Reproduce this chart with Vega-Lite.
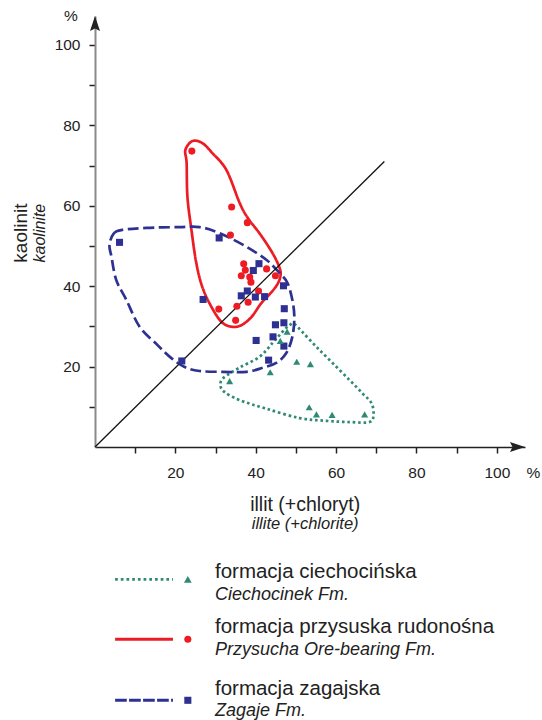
{
  "$schema": "https://vega.github.io/schema/vega-lite/v6.json",
  "width": 430,
  "height": 431,
  "autosize": {"type": "none"},
  "padding": {"left": 95, "top": 16, "right": 17, "bottom": 273},
  "background": "white",
  "config": {"view": {"stroke": null}, "font": "Liberation Sans"},
  "datasets": {
    "outlines": [
      {"formacja": "ciechocińska", "i": 0, "illit": 48.4, "kaolinit": 30.3},
      {"formacja": "ciechocińska", "i": 1, "illit": 49.6, "kaolinit": 30.6},
      {"formacja": "ciechocińska", "i": 2, "illit": 51.6, "kaolinit": 28.6},
      {"formacja": "ciechocińska", "i": 3, "illit": 55.1, "kaolinit": 24.9},
      {"formacja": "ciechocińska", "i": 4, "illit": 59.1, "kaolinit": 20.9},
      {"formacja": "ciechocińska", "i": 5, "illit": 63.3, "kaolinit": 16.7},
      {"formacja": "ciechocińska", "i": 6, "illit": 66.5, "kaolinit": 13.4},
      {"formacja": "ciechocińska", "i": 7, "illit": 68.8, "kaolinit": 10.9},
      {"formacja": "ciechocińska", "i": 8, "illit": 69.3, "kaolinit": 8.0},
      {"formacja": "ciechocińska", "i": 9, "illit": 68.3, "kaolinit": 6.2},
      {"formacja": "ciechocińska", "i": 10, "illit": 63.3, "kaolinit": 6.2},
      {"formacja": "ciechocińska", "i": 11, "illit": 57.6, "kaolinit": 6.5},
      {"formacja": "ciechocińska", "i": 12, "illit": 50.9, "kaolinit": 7.2},
      {"formacja": "ciechocińska", "i": 13, "illit": 42.7, "kaolinit": 9.5},
      {"formacja": "ciechocińska", "i": 14, "illit": 35.9, "kaolinit": 11.7},
      {"formacja": "ciechocińska", "i": 15, "illit": 32.2, "kaolinit": 13.7},
      {"formacja": "ciechocińska", "i": 16, "illit": 31.2, "kaolinit": 15.4},
      {"formacja": "ciechocińska", "i": 17, "illit": 32.0, "kaolinit": 17.2},
      {"formacja": "ciechocińska", "i": 18, "illit": 35.9, "kaolinit": 19.7},
      {"formacja": "ciechocińska", "i": 19, "illit": 40.9, "kaolinit": 22.4},
      {"formacja": "ciechocińska", "i": 20, "illit": 44.2, "kaolinit": 25.9},
      {"formacja": "ciechocińska", "i": 21, "illit": 46.6, "kaolinit": 28.6},
      {"formacja": "przysuska", "i": 0, "illit": 24.25, "kaolinit": 76.1},
      {"formacja": "przysuska", "i": 1, "illit": 26.7, "kaolinit": 75.6},
      {"formacja": "przysuska", "i": 2, "illit": 29.2, "kaolinit": 73.1},
      {"formacja": "przysuska", "i": 3, "illit": 32.7, "kaolinit": 68.9},
      {"formacja": "przysuska", "i": 4, "illit": 36.0, "kaolinit": 60.7},
      {"formacja": "przysuska", "i": 5, "illit": 38.0, "kaolinit": 57.0},
      {"formacja": "przysuska", "i": 6, "illit": 40.9, "kaolinit": 53.2},
      {"formacja": "przysuska", "i": 7, "illit": 43.4, "kaolinit": 49.5},
      {"formacja": "przysuska", "i": 8, "illit": 45.1, "kaolinit": 46.5},
      {"formacja": "przysuska", "i": 9, "illit": 46.1, "kaolinit": 44.0},
      {"formacja": "przysuska", "i": 10, "illit": 46.1, "kaolinit": 42.3},
      {"formacja": "przysuska", "i": 11, "illit": 45.4, "kaolinit": 40.5},
      {"formacja": "przysuska", "i": 12, "illit": 43.9, "kaolinit": 38.5},
      {"formacja": "przysuska", "i": 13, "illit": 41.4, "kaolinit": 35.8},
      {"formacja": "przysuska", "i": 14, "illit": 38.9, "kaolinit": 32.3},
      {"formacja": "przysuska", "i": 15, "illit": 36.4, "kaolinit": 30.3},
      {"formacja": "przysuska", "i": 16, "illit": 34.0, "kaolinit": 29.9},
      {"formacja": "przysuska", "i": 17, "illit": 31.5, "kaolinit": 31.1},
      {"formacja": "przysuska", "i": 18, "illit": 29.0, "kaolinit": 34.8},
      {"formacja": "przysuska", "i": 19, "illit": 26.7, "kaolinit": 39.8},
      {"formacja": "przysuska", "i": 20, "illit": 25.2, "kaolinit": 45.8},
      {"formacja": "przysuska", "i": 21, "illit": 24.0, "kaolinit": 54.0},
      {"formacja": "przysuska", "i": 22, "illit": 23.0, "kaolinit": 62.2},
      {"formacja": "przysuska", "i": 23, "illit": 22.8, "kaolinit": 70.6},
      {"formacja": "przysuska", "i": 24, "illit": 22.5, "kaolinit": 73.9},
      {"formacja": "zagajska", "i": 0, "illit": 3.6, "kaolinit": 50.2},
      {"formacja": "zagajska", "i": 1, "illit": 4.6, "kaolinit": 53.0},
      {"formacja": "zagajska", "i": 2, "illit": 6.8, "kaolinit": 54.0},
      {"formacja": "zagajska", "i": 3, "illit": 12.8, "kaolinit": 54.5},
      {"formacja": "zagajska", "i": 4, "illit": 21.0, "kaolinit": 54.7},
      {"formacja": "zagajska", "i": 5, "illit": 26.0, "kaolinit": 54.7},
      {"formacja": "zagajska", "i": 6, "illit": 31.0, "kaolinit": 53.2},
      {"formacja": "zagajska", "i": 7, "illit": 37.7, "kaolinit": 49.8},
      {"formacja": "zagajska", "i": 8, "illit": 42.7, "kaolinit": 46.5},
      {"formacja": "zagajska", "i": 9, "illit": 45.9, "kaolinit": 43.3},
      {"formacja": "zagajska", "i": 10, "illit": 47.9, "kaolinit": 40.8},
      {"formacja": "zagajska", "i": 11, "illit": 49.1, "kaolinit": 36.6},
      {"formacja": "zagajska", "i": 12, "illit": 49.6, "kaolinit": 32.3},
      {"formacja": "zagajska", "i": 13, "illit": 49.1, "kaolinit": 27.4},
      {"formacja": "zagajska", "i": 14, "illit": 47.6, "kaolinit": 23.4},
      {"formacja": "zagajska", "i": 15, "illit": 45.1, "kaolinit": 20.9},
      {"formacja": "zagajska", "i": 16, "illit": 41.7, "kaolinit": 19.7},
      {"formacja": "zagajska", "i": 17, "illit": 37.7, "kaolinit": 18.7},
      {"formacja": "zagajska", "i": 18, "illit": 31.7, "kaolinit": 18.7},
      {"formacja": "zagajska", "i": 19, "illit": 26.0, "kaolinit": 18.9},
      {"formacja": "zagajska", "i": 20, "illit": 22.3, "kaolinit": 19.9},
      {"formacja": "zagajska", "i": 21, "illit": 19.0, "kaolinit": 22.1},
      {"formacja": "zagajska", "i": 22, "illit": 15.5, "kaolinit": 25.4},
      {"formacja": "zagajska", "i": 23, "illit": 11.1, "kaolinit": 29.9},
      {"formacja": "zagajska", "i": 24, "illit": 7.8, "kaolinit": 36.6},
      {"formacja": "zagajska", "i": 25, "illit": 5.3, "kaolinit": 41.5},
      {"formacja": "zagajska", "i": 26, "illit": 4.1, "kaolinit": 47.3}
    ],
    "samples": [
      {"formacja": "przysuska", "illit": 24.1, "kaolinit": 73.6},
      {"formacja": "przysuska", "illit": 34.0, "kaolinit": 59.7},
      {"formacja": "przysuska", "illit": 37.9, "kaolinit": 55.8},
      {"formacja": "przysuska", "illit": 33.7, "kaolinit": 52.7},
      {"formacja": "przysuska", "illit": 37.0, "kaolinit": 45.6},
      {"formacja": "przysuska", "illit": 37.4, "kaolinit": 44.0},
      {"formacja": "przysuska", "illit": 36.4, "kaolinit": 42.6},
      {"formacja": "przysuska", "illit": 38.5, "kaolinit": 42.3},
      {"formacja": "przysuska", "illit": 38.8, "kaolinit": 41.0},
      {"formacja": "przysuska", "illit": 42.7, "kaolinit": 44.3},
      {"formacja": "przysuska", "illit": 44.9, "kaolinit": 42.6},
      {"formacja": "przysuska", "illit": 40.7, "kaolinit": 38.8},
      {"formacja": "przysuska", "illit": 38.1, "kaolinit": 36.0},
      {"formacja": "przysuska", "illit": 35.3, "kaolinit": 35.0},
      {"formacja": "przysuska", "illit": 30.8, "kaolinit": 34.3},
      {"formacja": "przysuska", "illit": 35.0, "kaolinit": 31.5},
      {"formacja": "zagajska", "illit": 6.1, "kaolinit": 50.9},
      {"formacja": "zagajska", "illit": 30.9, "kaolinit": 52.0},
      {"formacja": "zagajska", "illit": 40.8, "kaolinit": 45.6},
      {"formacja": "zagajska", "illit": 39.4, "kaolinit": 43.9},
      {"formacja": "zagajska", "illit": 37.9, "kaolinit": 38.8},
      {"formacja": "zagajska", "illit": 36.4, "kaolinit": 37.6},
      {"formacja": "zagajska", "illit": 39.9, "kaolinit": 37.3},
      {"formacja": "zagajska", "illit": 42.2, "kaolinit": 37.4},
      {"formacja": "zagajska", "illit": 26.9, "kaolinit": 36.7},
      {"formacja": "zagajska", "illit": 46.9, "kaolinit": 40.1},
      {"formacja": "zagajska", "illit": 47.1, "kaolinit": 34.4},
      {"formacja": "zagajska", "illit": 47.0, "kaolinit": 30.9},
      {"formacja": "zagajska", "illit": 44.9, "kaolinit": 30.4},
      {"formacja": "zagajska", "illit": 40.1, "kaolinit": 26.5},
      {"formacja": "zagajska", "illit": 44.3, "kaolinit": 27.4},
      {"formacja": "zagajska", "illit": 47.0, "kaolinit": 25.1},
      {"formacja": "zagajska", "illit": 43.2, "kaolinit": 21.6},
      {"formacja": "zagajska", "illit": 21.6, "kaolinit": 21.4},
      {"formacja": "ciechocińska", "illit": 47.8, "kaolinit": 28.7},
      {"formacja": "ciechocińska", "illit": 46.1, "kaolinit": 26.4},
      {"formacja": "ciechocińska", "illit": 50.2, "kaolinit": 21.2},
      {"formacja": "ciechocińska", "illit": 53.6, "kaolinit": 20.6},
      {"formacja": "ciechocińska", "illit": 43.6, "kaolinit": 18.6},
      {"formacja": "ciechocińska", "illit": 33.5, "kaolinit": 16.4},
      {"formacja": "ciechocińska", "illit": 53.3, "kaolinit": 9.9},
      {"formacja": "ciechocińska", "illit": 55.1, "kaolinit": 8.1},
      {"formacja": "ciechocińska", "illit": 59.0, "kaolinit": 8.0},
      {"formacja": "ciechocińska", "illit": 67.1, "kaolinit": 8.1}
    ],
    "diagonal": [
      {"illit": 0, "kaolinit": 0},
      {"illit": 72, "kaolinit": 71}
    ],
    "one": [{}],
    "legend": [
      {"formacja": "ciechocińska", "pl": "formacja ciechocińska", "en": "Ciechocinek Fm."},
      {"formacja": "przysuska", "pl": "formacja przysuska rudonośna", "en": "Przysucha Ore-bearing Fm."},
      {"formacja": "zagajska", "pl": "formacja zagajska", "en": "Zagaje Fm."}
    ]
  },
  "layer": [
    {
      "data": {"name": "outlines"},
      "mark": {"type": "line", "interpolate": "cardinal-closed", "strokeWidth": 2.7, "strokeCap": "butt"},
      "encoding": {
        "x": {"field": "illit", "type": "quantitative",
          "scale": {"domain": [0, 107], "nice": false, "zero": false},
          "axis": {"values": [10, 20, 30, 40, 50, 60, 70, 80, 90, 100], "labelExpr": "datum.value % 20 == 0 ? datum.label : ''",
            "title": null, "grid": false, "domainColor": "#222222", "domainWidth": 1.5, "tickColor": "#222222", "tickWidth": 1.5, "tickSize": 6,
            "labelFont": "Liberation Sans", "labelFontSize": 15.5, "labelColor": "#222222", "labelPadding": 12, "labelFlush": false, "labelOverlap": false}},
        "y": {"field": "kaolinit", "type": "quantitative",
          "scale": {"domain": [0, 107.2], "nice": false, "zero": false},
          "axis": {"values": [10, 20, 30, 40, 50, 60, 70, 80, 90, 100], "labelExpr": "datum.value % 20 == 0 ? datum.label : ''",
            "title": null, "grid": false, "domainColor": "#8a8a8a", "domainWidth": 2, "tickColor": "#222222", "tickWidth": 1.5, "tickSize": 6,
            "labelFont": "Liberation Sans", "labelFontSize": 15.5, "labelColor": "#222222", "labelPadding": 9, "labelFlush": false, "labelOverlap": false}},
        "order": {"field": "i", "type": "quantitative"},
        "color": {"field": "formacja", "type": "nominal", "legend": null,
          "scale": {"domain": ["ciechocińska", "przysuska", "zagajska"], "range": ["#2f8a73", "#ed1c24", "#2e3192"]}},
        "strokeDash": {"field": "formacja", "type": "nominal", "legend": null,
          "scale": {"domain": ["ciechocińska", "przysuska", "zagajska"], "range": [[2.6, 2.8], [1, 0], [11, 4.5]]}}
      }
    },
    {
      "data": {"name": "diagonal"},
      "mark": {"type": "line", "color": "#111111", "strokeWidth": 1.3},
      "encoding": {
        "x": {"field": "illit", "type": "quantitative", "axis": {"title": null}},
        "y": {"field": "kaolinit", "type": "quantitative", "axis": {"title": null}}
      }
    },
    {
      "data": {"name": "samples"},
      "mark": {"type": "point", "filled": true, "opacity": 1, "size": 50},
      "encoding": {
        "x": {"field": "illit", "type": "quantitative", "axis": {"title": null}},
        "y": {"field": "kaolinit", "type": "quantitative", "axis": {"title": null}},
        "color": {"field": "formacja", "type": "nominal", "legend": null},
        "shape": {"field": "formacja", "type": "nominal", "legend": null,
          "scale": {"domain": ["ciechocińska", "przysuska", "zagajska"], "range": ["triangle-up", "circle", "square"]}}
      }
    },
    {
      "data": {"name": "one"},
      "mark": {"type": "point", "filled": true, "opacity": 1, "color": "#222222", "size": 100, "shape": "M0,0 L-3,-1 L-2.5,0 L-3,1 Z"},
      "encoding": {
        "x": {"datum": 107, "type": "quantitative"},
        "y": {"datum": 0, "type": "quantitative"}
      }
    },
    {
      "data": {"name": "one"},
      "mark": {"type": "point", "filled": true, "opacity": 1, "color": "#222222", "size": 100, "shape": "M0,0 L-1,3 L0,2.5 L1,3 Z"},
      "encoding": {
        "x": {"datum": 0, "type": "quantitative"},
        "y": {"datum": 107.2, "type": "quantitative"}
      }
    },
    {
      "data": {"name": "one"},
      "mark": {"type": "text", "text": "%", "font": "Liberation Sans", "fontSize": 15.5, "color": "#222222", "align": "center", "baseline": "alphabetic"},
      "encoding": {
        "x": {"datum": 109.1, "type": "quantitative"},
        "y": {"datum": -7.7, "type": "quantitative"}
      }
    },
    {
      "data": {"name": "one"},
      "mark": {"type": "text", "text": "%", "font": "Liberation Sans", "fontSize": 15.5, "color": "#222222", "align": "center", "baseline": "alphabetic"},
      "encoding": {
        "x": {"datum": -6, "type": "quantitative"},
        "y": {"datum": 106, "type": "quantitative"}
      }
    },
    {
      "data": {"name": "one"},
      "mark": {"type": "text", "text": "illit (+chloryt)", "font": "Liberation Sans", "fontSize": 19.5, "color": "#222222", "align": "center", "baseline": "alphabetic"},
      "encoding": {
        "x": {"datum": 52.3, "type": "quantitative"},
        "y": {"datum": -15.9, "type": "quantitative"}
      }
    },
    {
      "data": {"name": "one"},
      "mark": {"type": "text", "text": "illite (+chlorite)", "font": "Liberation Sans", "fontSize": 16.5, "fontStyle": "italic", "color": "#222222", "align": "center", "baseline": "alphabetic"},
      "encoding": {
        "x": {"datum": 52.3, "type": "quantitative"},
        "y": {"datum": -20.5, "type": "quantitative"}
      }
    },
    {
      "data": {"name": "one"},
      "mark": {"type": "text", "text": "kaolinit", "font": "Liberation Sans", "fontSize": 19, "color": "#222222", "align": "center", "baseline": "alphabetic", "angle": 270},
      "encoding": {
        "x": {"datum": -16.9, "type": "quantitative"},
        "y": {"datum": 53.2, "type": "quantitative"}
      }
    },
    {
      "data": {"name": "one"},
      "mark": {"type": "text", "text": "kaolinite", "font": "Liberation Sans", "fontSize": 16, "fontStyle": "italic", "color": "#222222", "align": "center", "baseline": "alphabetic", "angle": 270},
      "encoding": {
        "x": {"datum": -12.4, "type": "quantitative"},
        "y": {"datum": 53.2, "type": "quantitative"}
      }
    },
    {
      "data": {"name": "one"},
      "mark": {"type": "rule", "color": "#2f8a73", "strokeWidth": 2.7, "strokeDash": [2.7, 3], "strokeCap": "butt"},
      "encoding": {
        "x": {"datum": 5.0, "type": "quantitative"},
        "x2": {"datum": 19.4},
        "y": {"datum": -32.9, "type": "quantitative"}
      }
    },
    {
      "data": {"name": "one"},
      "mark": {"type": "rule", "color": "#ed1c24", "strokeWidth": 3, "strokeCap": "butt"},
      "encoding": {
        "x": {"datum": 5.0, "type": "quantitative"},
        "x2": {"datum": 19.4},
        "y": {"datum": -47.8, "type": "quantitative"}
      }
    },
    {
      "data": {"name": "one"},
      "mark": {"type": "rule", "color": "#2e3192", "strokeWidth": 3, "strokeDash": [11.7, 2.3], "strokeCap": "butt"},
      "encoding": {
        "x": {"datum": 5.0, "type": "quantitative"},
        "x2": {"datum": 19.4},
        "y": {"datum": -63.0, "type": "quantitative"}
      }
    },
    {
      "data": {"name": "one"},
      "mark": {"type": "point", "filled": true, "opacity": 1, "color": "#2f8a73", "shape": "triangle-up", "size": 60},
      "encoding": {
        "x": {"datum": 23.1, "type": "quantitative"},
        "y": {"datum": -32.9, "type": "quantitative"}
      }
    },
    {
      "data": {"name": "one"},
      "mark": {"type": "point", "filled": true, "opacity": 1, "color": "#ed1c24", "shape": "circle", "size": 50},
      "encoding": {
        "x": {"datum": 23.1, "type": "quantitative"},
        "y": {"datum": -47.8, "type": "quantitative"}
      }
    },
    {
      "data": {"name": "one"},
      "mark": {"type": "point", "filled": true, "opacity": 1, "color": "#2e3192", "shape": "square", "size": 50},
      "encoding": {
        "x": {"datum": 23.1, "type": "quantitative"},
        "y": {"datum": -63.0, "type": "quantitative"}
      }
    },
    {
      "data": {"name": "legend"},
      "transform": [{"filter": "datum.formacja == 'ciechocińska'"}],
      "mark": {"type": "text", "font": "Liberation Sans", "fontSize": 20.5, "color": "#222222", "align": "left", "baseline": "alphabetic"},
      "encoding": {
        "text": {"field": "pl"},
        "x": {"datum": 29.85, "type": "quantitative"},
        "y": {"datum": -32.7, "type": "quantitative"}
      }
    },
    {
      "data": {"name": "legend"},
      "transform": [{"filter": "datum.formacja == 'ciechocińska'"}],
      "mark": {"type": "text", "font": "Liberation Sans", "fontSize": 18, "fontStyle": "italic", "color": "#222222", "align": "left", "baseline": "alphabetic"},
      "encoding": {
        "text": {"field": "en"},
        "x": {"datum": 29.85, "type": "quantitative"},
        "y": {"datum": -38.1, "type": "quantitative"}
      }
    },
    {
      "data": {"name": "legend"},
      "transform": [{"filter": "datum.formacja == 'przysuska'"}],
      "mark": {"type": "text", "font": "Liberation Sans", "fontSize": 20.5, "color": "#222222", "align": "left", "baseline": "alphabetic"},
      "encoding": {
        "text": {"field": "pl"},
        "x": {"datum": 29.85, "type": "quantitative"},
        "y": {"datum": -46.3, "type": "quantitative"}
      }
    },
    {
      "data": {"name": "legend"},
      "transform": [{"filter": "datum.formacja == 'przysuska'"}],
      "mark": {"type": "text", "font": "Liberation Sans", "fontSize": 18, "fontStyle": "italic", "color": "#222222", "align": "left", "baseline": "alphabetic"},
      "encoding": {
        "text": {"field": "en"},
        "x": {"datum": 29.85, "type": "quantitative"},
        "y": {"datum": -51.7, "type": "quantitative"}
      }
    },
    {
      "data": {"name": "legend"},
      "transform": [{"filter": "datum.formacja == 'zagajska'"}],
      "mark": {"type": "text", "font": "Liberation Sans", "fontSize": 20.5, "color": "#222222", "align": "left", "baseline": "alphabetic"},
      "encoding": {
        "text": {"field": "pl"},
        "x": {"datum": 29.85, "type": "quantitative"},
        "y": {"datum": -61.7, "type": "quantitative"}
      }
    },
    {
      "data": {"name": "legend"},
      "transform": [{"filter": "datum.formacja == 'zagajska'"}],
      "mark": {"type": "text", "font": "Liberation Sans", "fontSize": 18, "fontStyle": "italic", "color": "#222222", "align": "left", "baseline": "alphabetic"},
      "encoding": {
        "text": {"field": "en"},
        "x": {"datum": 29.85, "type": "quantitative"},
        "y": {"datum": -66.8, "type": "quantitative"}
      }
    }
  ]
}
